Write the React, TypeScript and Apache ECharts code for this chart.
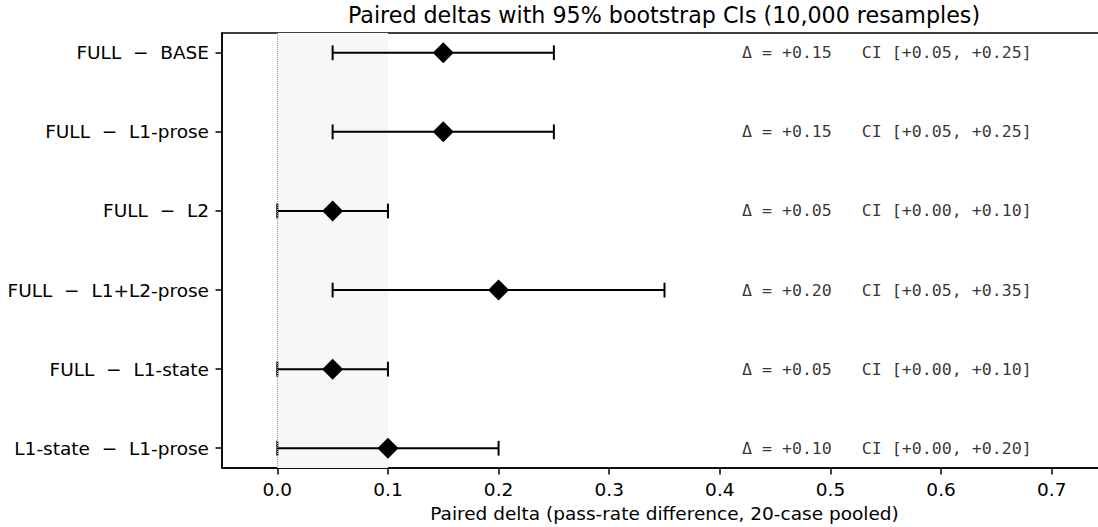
import React, { useEffect, useRef } from "react";
import * as echarts from "echarts";

const comparisons = [
  "FULL  −  BASE",
  "FULL  −  L1-prose",
  "FULL  −  L2",
  "FULL  −  L1+L2-prose",
  "FULL  −  L1-state",
  "L1-state  −  L1-prose",
];
const deltas = [0.15, 0.15, 0.05, 0.2, 0.05, 0.1];
const ciLow = [0.05, 0.05, 0.0, 0.05, 0.0, 0.0];
const ciHigh = [0.25, 0.25, 0.1, 0.35, 0.1, 0.2];
const xTicks = [0, 0.1, 0.2, 0.3, 0.4, 0.5, 0.6, 0.7];
const annotationX = 0.42;

const fmt = (v: number) => (v >= 0 ? "+" : "") + v.toFixed(2);

export default function App() {
  const ref = useRef<HTMLDivElement>(null);
  useEffect(() => {
    document.body.style.margin = "0";
    const chart = echarts.init(ref.current!, undefined, { renderer: "svg" });
    const rows = comparisons.map((_, i) => i);
    const sans = "DejaVu Sans";
    chart.setOption({
      animation: false,
      backgroundColor: "#ffffff",
      graphic: [
        {
          type: "text",
          x: 664,
          y: 15,
          style: {
            text: "Paired deltas with 95% bootstrap CIs (10,000 resamples)",
            fontFamily: sans,
            fontSize: 22.2,
            fill: "#000",
            textAlign: "center",
            textVerticalAlign: "middle",
          },
        },
      ],
      grid: {
        left: 222,
        top: 33,
        width: 885,
        height: 435,
        outerBoundsMode: "none",
        containLabel: false,
        show: true,
        borderColor: "#000",
        borderWidth: 1.5,
        backgroundColor: "transparent",
      },
      xAxis: {
        type: "value",
        min: -0.05,
        max: 0.75,
        splitLine: { show: false },
        axisLine: { show: true, onZero: false, lineStyle: { color: "#000", width: 1.5 } },
        axisTick: { show: true, customValues: xTicks, length: 6.5, lineStyle: { color: "#000", width: 1.5 } },
        axisLabel: {
          customValues: xTicks,
          formatter: (v: number) => v.toFixed(1),
          fontFamily: sans,
          fontSize: 18.5,
          color: "#000",
          margin: 12,
        },
        name: "Paired delta (pass-rate difference, 20-case pooled)",
        nameLocation: "middle",
        nameGap: 35,
        nameTextStyle: { fontFamily: sans, fontSize: 18.5, color: "#000" },
      },
      yAxis: {
        type: "value",
        inverse: true,
        min: -0.25,
        max: 5.25,
        splitLine: { show: false },
        axisLine: { show: true, onZero: false, lineStyle: { color: "#000", width: 1.5 } },
        axisTick: { show: true, customValues: rows, length: 6.5, lineStyle: { color: "#000", width: 1.5 } },
        axisLabel: {
          customValues: rows,
          formatter: (v: number) => comparisons[Math.round(v)] ?? "",
          fontFamily: sans,
          fontSize: 18.5,
          color: "#000",
          margin: 13,
        },
      },
      series: [
        {
          type: "custom",
          z: 2,
          data: rows.map((i) => [ciLow[i], ciHigh[i], i]),
          renderItem: (params: any, api: any) => {
            const lo = api.coord([api.value(0), api.value(2)]);
            const hi = api.coord([api.value(1), api.value(2)]);
            const cap = 7.4;
            const style = { stroke: "#000", lineWidth: 2, fill: "none" };
            return {
              type: "group",
              children: [
                { type: "line", shape: { x1: lo[0], y1: lo[1], x2: hi[0], y2: hi[1] }, style },
                { type: "line", shape: { x1: lo[0], y1: lo[1] - cap, x2: lo[0], y2: lo[1] + cap }, style },
                { type: "line", shape: { x1: hi[0], y1: hi[1] - cap, x2: hi[0], y2: hi[1] + cap }, style },
              ],
            };
          },
          markArea: {
            silent: true,
            itemStyle: { color: "#f7f7f7", borderWidth: 0 },
            data: [[{ xAxis: 0 }, { xAxis: 0.1 }]],
          },
          markLine: {
            silent: true,
            symbol: "none",
            label: { show: false },
            lineStyle: { color: "#999999", type: "dotted", width: 1 },
            data: [{ xAxis: 0 }],
          },
        },
        {
          type: "scatter",
          z: 3,
          symbol: "diamond",
          symbolSize: 21,
          itemStyle: { color: "#000", opacity: 1 },
          data: rows.map((i) => [deltas[i], i]),
        },
        {
          type: "scatter",
          z: 4,
          symbolSize: 0,
          silent: true,
          data: rows.map((i) => [annotationX, i]),
          label: {
            show: true,
            position: "right",
            distance: 0,
            fontFamily: "DejaVu Sans Mono",
            fontSize: 16.6,
            color: "#000",
            formatter: (p: any) => {
              const i = p.dataIndex;
              return `Δ = ${fmt(deltas[i])}   CI [${fmt(ciLow[i])}, ${fmt(ciHigh[i])}]`;
            },
          },
        },
      ],
    });
    return () => chart.dispose();
  }, []);
  return <div ref={ref} style={{ width: 1098, height: 527 }} />;
}
